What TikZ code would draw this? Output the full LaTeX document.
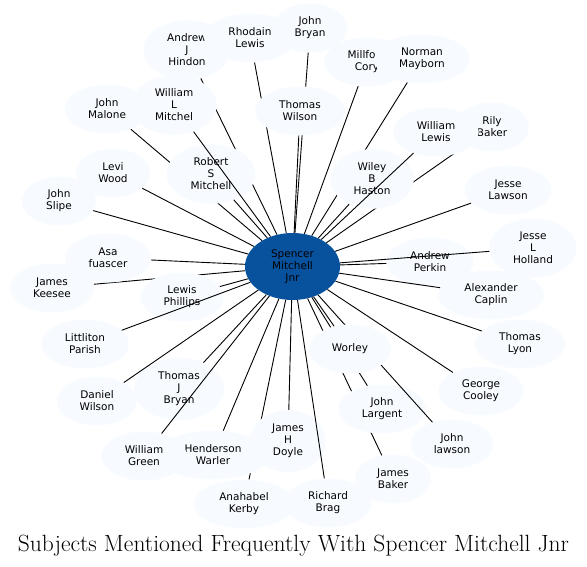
\documentclass[tikz,border=0pt]{standalone}
\usepackage{fontspec}
\newfontfamily\nodefont{DejaVu Sans}
\usetikzlibrary{shapes.geometric}
\definecolor{leaf}{HTML}{F7FBFF}
\definecolor{hub}{HTML}{08519C}
\tikzset{
  person/.style={ellipse, fill=leaf, align=center, inner xsep=11pt, inner ysep=5pt,
    minimum width=74pt, minimum height=49pt, font=\nodefont\fontsize{10.5}{12}\selectfont},
  hubnode/.style={person, fill=hub, inner xsep=7pt, minimum width=95pt, minimum height=67pt},
  link/.style={line width=0.9pt, black}
}

\begin{document}
\begin{tikzpicture}[x=1pt, y=-1pt]
  \useasboundingbox (0,0) rectangle (587,567);

  \node[hubnode] (spencer) at (292.5,266.5) {Spencer\\Mitchell\\Jnr};

  \foreach \nm/\px/\py/\txt in {
      andrewjh/187/50/{Andrew\\J\\Hindon},
      rhodain/250/38/{Rhodain\\Lewis},
      johnbryan/310/28/{John\\Bryan},
      thomaswilson/300/111/{Thomas\\Wilson},
      millford/367/62/{Millford\\Cory},
      norman/422/59/{Norman\\Mayborn},
      rily/492/127/{Rily\\Baker},
      wiley/372/179/{Wiley\\B\\Haston},
      williamlewis/436/132/{William\\Lewis},
      jesselawson/508/190/{Jesse\\Lawson},
      andrewperkin/430/262/{Andrew\\Perkin},
      jesseholland/533/248/{Jesse\\L\\Holland},
      alexander/491/295/{Alexander\\Caplin},
      thomaslyon/520/344/{Thomas\\Lyon},
      georgecooley/481/391/{George\\Cooley},
      jamesbaker/393/479/{James\\Baker},
      johnlargent/382/409/{John\\Largent},
      johnlawson/452/444/{John\\lawson},
      worley/350/349/{Worley},
      anahabel/244/504/{Anahabel\\Kerby},
      jamesdoyle/288/441/{James\\H\\Doyle},
      richardbrag/328/503/{Richard\\Brag},
      henderson/213/455/{Henderson\\Warler},
      thomasbryan/179/389/{Thomas\\J\\Bryan},
      williamgreen/144/456/{William\\Green},
      danielwilson/97/401/{Daniel\\Wilson},
      jameskeesee/52/288/{James\\Keesee},
      lewisphillips/182/297/{Lewis\\Phillips},
      littliton/85/344/{Littliton\\Parish},
      asa/108/258/{Asa\\fuascer},
      johnslipe/59/201/{John\\Slipe},
      levi/113/173/{Levi\\Wood},
      johnmalone/107/109/{John\\Malone},
      robert/211/174/{Robert\\S\\Mitchell},
      williammitchel/174/105/{William\\L\\Mitchel}} {
    \node[person] (\nm) at (\px,\py) {\txt};
    \draw[link] (spencer) -- (\nm);
  }

  \node[font=\fontsize{23.5}{28}\selectfont, anchor=base] (title) at (293.5,551)
    {Subjects Mentioned Frequently With Spencer Mitchell Jnr};
\end{tikzpicture}
\end{document}
